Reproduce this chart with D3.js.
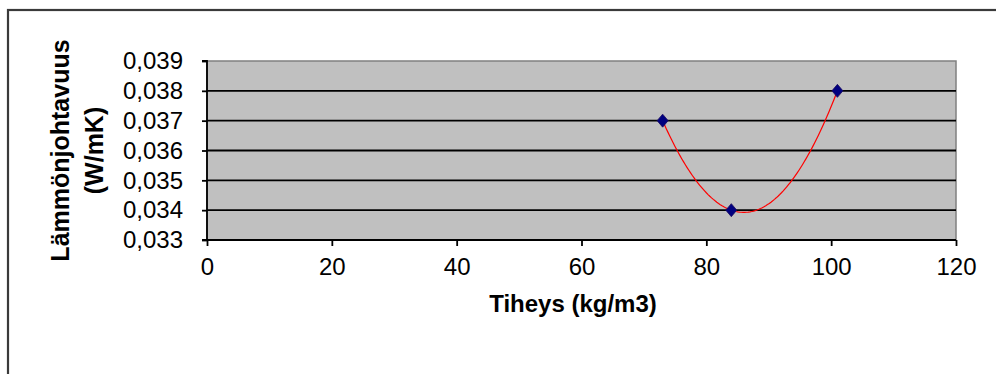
<!DOCTYPE html>
<html>
<head>
<meta charset="utf-8">
<script src="https://cdn.jsdelivr.net/npm/d3@7/dist/d3.min.js"></script>
<style>
  html, body { margin: 0; padding: 0; background: #fff; }
  svg { display: block; }
  text { font-family: "Liberation Sans", Arial, sans-serif; fill: #000; }
</style>
</head>
<body>
<svg id="chart" width="996" height="374"></svg>
<script>
// Density (kg/m3) and thermal conductivity (W/mK) measurements
const densities = [73, 84, 101];
const conductivities = [0.037, 0.034, 0.038];

const xTicks = [0, 20, 40, 60, 80, 100, 120];
const yTicks = [0.033, 0.034, 0.035, 0.036, 0.037, 0.038, 0.039];

const xTitle = "Tiheys (kg/m3)";
const yTitleLines = ["Lämmönjohtavuus", "(W/mK)"];

const svg = d3.select("#chart");

const plot = { left: 207, right: 956, top: 61, bottom: 240 };

const x = d3.scaleLinear().domain([0, 120]).range([plot.left, plot.right]);
const y = d3.scaleLinear().domain([0.033, 0.039]).range([plot.bottom, plot.top]);

const fmt = v => d3.format(".3f")(v).replace(".", ",");

// Chart frame
svg.append("rect")
  .attr("x", 8).attr("y", 10)
  .attr("width", 1000).attr("height", 400)
  .attr("fill", "#fff")
  .attr("stroke", "#3a3a3a")
  .attr("stroke-width", 2.2);

// Plot area background
svg.append("rect")
  .attr("x", plot.left).attr("y", plot.top)
  .attr("width", plot.right - plot.left)
  .attr("height", plot.bottom - plot.top)
  .attr("fill", "#c0c0c0")
  .attr("stroke", "#808080")
  .attr("stroke-width", 1.5);

// Horizontal gridlines
svg.append("g")
  .selectAll("line")
  .data(yTicks.slice(1, -1))
  .join("line")
  .attr("x1", plot.left).attr("x2", plot.right)
  .attr("y1", d => y(d)).attr("y2", d => y(d))
  .attr("stroke", "#000")
  .attr("stroke-width", 1.8);

// Y axis
const yAxis = d3.axisLeft(y).tickValues(yTicks).tickFormat(fmt).tickSize(5).tickPadding(19);
const gy = svg.append("g")
  .attr("transform", `translate(${plot.left},0)`)
  .call(yAxis);
gy.select(".domain").attr("stroke", "#000").attr("stroke-width", 1.8).attr("d", `M-5,${plot.top}H0V${plot.bottom}H-5`);
gy.selectAll(".tick line").attr("stroke", "#000").attr("stroke-width", 1.8);
gy.selectAll("text")
  .style("font-family", "'Liberation Sans', Arial, sans-serif")
  .style("font-size", "24px")
  .attr("fill", "#000");

// X axis
const xAxis = d3.axisBottom(x).tickValues(xTicks).tickFormat(d3.format("d")).tickSize(6).tickPadding(12);
const gx = svg.append("g")
  .attr("transform", `translate(0,${plot.bottom})`)
  .call(xAxis);
gx.select(".domain").attr("stroke", "#000").attr("stroke-width", 1.8).attr("d", `M${plot.left},0H${plot.right}`);
gx.selectAll(".tick line").attr("stroke", "#000").attr("stroke-width", 1.8);
gx.selectAll("text")
  .style("font-family", "'Liberation Sans', Arial, sans-serif")
  .style("font-size", "24px")
  .attr("fill", "#000");

// Second-order polynomial trendline fitted to the measurements
function polyFit2(xs, ys) {
  const n = xs.length;
  let s = [0, 0, 0, 0, 0], t = [0, 0, 0];
  for (let i = 0; i < n; i++) {
    for (let k = 0; k <= 4; k++) s[k] += Math.pow(xs[i], k);
    for (let k = 0; k <= 2; k++) t[k] += ys[i] * Math.pow(xs[i], k);
  }
  const A = [[s[0], s[1], s[2], t[0]], [s[1], s[2], s[3], t[1]], [s[2], s[3], s[4], t[2]]];
  for (let i = 0; i < 3; i++) {
    let p = i;
    for (let r = i + 1; r < 3; r++) if (Math.abs(A[r][i]) > Math.abs(A[p][i])) p = r;
    [A[i], A[p]] = [A[p], A[i]];
    for (let r = 0; r < 3; r++) {
      if (r === i) continue;
      const f = A[r][i] / A[i][i];
      for (let c = i; c < 4; c++) A[r][c] -= f * A[i][c];
    }
  }
  return [A[0][3] / A[0][0], A[1][3] / A[1][1], A[2][3] / A[2][2]];
}
const coef = polyFit2(densities, conductivities);
const xMin = d3.min(densities), xMax = d3.max(densities);
const trend = d3.range(0, 101).map(i => {
  const xv = xMin + (xMax - xMin) * i / 100;
  return [xv, coef[0] + coef[1] * xv + coef[2] * xv * xv];
});
svg.append("path")
  .datum(trend)
  .attr("fill", "none")
  .attr("stroke", "#ff0000")
  .attr("stroke-width", 1.2)
  .attr("d", d3.line().x(d => x(d[0])).y(d => y(d[1])));

// Data markers
svg.append("g")
  .selectAll("path")
  .data(densities.map((d, i) => [d, conductivities[i]]))
  .join("path")
  .attr("transform", d => `translate(${x(d[0])},${y(d[1])})`)
  .attr("d", "M0,-6.5L5.5,0L0,6.5L-5.5,0Z")
  .attr("fill", "#000080")
  .attr("stroke", "#1a0a60")
  .attr("stroke-width", 0.8);

// Axis titles
svg.append("text")
  .attr("x", 573)
  .attr("y", 312)
  .attr("text-anchor", "middle")
  .style("font-size", "24px")
  .style("font-weight", "bold")
  .text(xTitle);

const yTitle = svg.append("text")
  .attr("transform", `translate(69,${(plot.top + plot.bottom) / 2}) rotate(-90)`)
  .attr("text-anchor", "middle")
  .style("font-size", "25px")
  .style("font-weight", "bold");
yTitleLines.forEach((line, i) => {
  yTitle.append("tspan")
    .attr("x", 0)
    .attr("dy", i === 0 ? 0 : 34)
    .text(line);
});
</script>
</body>
</html>
